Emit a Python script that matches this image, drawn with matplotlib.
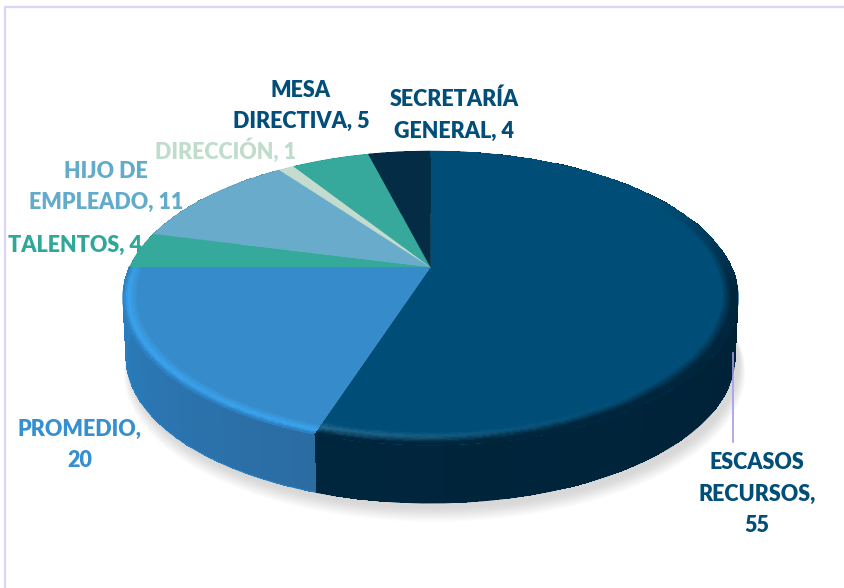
import numpy as np
import matplotlib
matplotlib.use("Agg")
import matplotlib.pyplot as plt
from matplotlib.colors import to_rgb

# datos del grafico
categorias = ["ESCASOS RECURSOS", "PROMEDIO", "TALENTOS", "HIJO DE EMPLEADO",
              "DIRECCIÓN", "MESA DIRECTIVA", "SECRETARÍA GENERAL"]
valores = [55, 20, 4, 11, 1, 5, 4]
etiquetas = ["ESCASOS\nRECURSOS,\n55", "PROMEDIO,\n20", "TALENTOS, 4",
             "HIJO DE\nEMPLEADO, 11", "DIRECCIÓN, 1", "MESA\nDIRECTIVA, 5",
             "SECRETARÍA\nGENERAL, 4"]

colores = ["#004e78", "#368cca", "#35aa9c", "#69abca", "#c3dccf", "#36a99c", "#042c44"]
colores_texto = ["#014e78", "#3690d0", "#2fa89a", "#62abcb", "#c0dccd", "#014e78", "#014e78"]
colores_lado = [("#00263d", "#001d30"), ("#2a80c2", "#2b6ca2"), ("#2a8a7e", "#2a8a7e"),
                ("#558aa3", "#558aa3"), ("#9db2a7", "#9db2a7"), ("#2a8a7e", "#2a8a7e"),
                ("#02202f", "#02202f")]
brillo = ["#2f7296", "#3aa2ec", "#35aa9c", "#69abca", "#c3dccf", "#36a99c", "#042c44"]
borde = ["#00263d", "#2a7ab8", "#35aa9c", "#69abca", "#c3dccf", "#36a99c", "#042c44"]
pos_etiquetas = [(757, 494), (80, 445), (75, 245), (106, 187), (226, 151), (301, 106), (454, 115)]

# geometria de la torta en perspectiva (pixeles)
CX, CY = 430.5, 267
A, B, K = 301, 140.5, 0.211
PROF = 60
ENC = 0.988


def proyectar(r, th, z=0.0):
    u = r * np.sin(th)
    v = r * np.cos(th)
    w = 1 + K * v
    esc = 1 - (1 - ENC) * z
    x = CX + esc * A * u / w
    y = CY - esc * B * v / w + PROF * z
    return x, y


def mezcla(c1, c2, t):
    return (1 - t)[..., None] * np.array(to_rgb(c1)) + t[..., None] * np.array(to_rgb(c2))


fig = plt.figure(figsize=(8.45, 5.88), dpi=100)
ax = fig.add_axes([0, 0, 1, 1])
ax.set_xlim(0, 845)
ax.set_ylim(588, 0)
ax.axis("off")

# marco
ax.plot([5.5, 5.5, 845], [588, 6.5, 6.5], color="#d9d5f6", lw=1.6)

# sombra difusa
th_s = np.linspace(0, 2 * np.pi, 240)
for i in range(14):
    xs, ys = proyectar(1.0 + 0.0016 * i, th_s, 1.0)
    ax.fill(xs + 4, ys + 5 + i * 0.7, color="#8a8a8a", alpha=0.022, lw=0, zorder=1)

limites = 2 * np.pi * np.concatenate([[0], np.cumsum(valores)]) / np.sum(valores)

# paredes laterales
for i in range(len(valores)):
    th = np.linspace(limites[i], limites[i + 1], 60)
    z = np.linspace(0, 1, 2)
    T, Z = np.meshgrid(th, z)
    X, Y = proyectar(1.0, T, Z)
    t = (th[:-1] - th[0]) / (th[-1] - th[0])
    c = mezcla(colores_lado[i][1], colores_lado[i][0], t)[None, :, :]
    ax.pcolormesh(X, Y, c, antialiased=False, zorder=2)
    xb, yb = proyectar(1.0, th, 1.0)
    ax.plot(xb, yb, color=colores_lado[i][0], lw=0.8, zorder=2)

# cara superior
for i in range(len(valores)):
    th = np.linspace(limites[i], limites[i + 1], 120)
    x, y = proyectar(1.0, th)
    ax.fill(np.r_[CX, x], np.r_[CY, y], color=colores[i], lw=0.3, ec=colores[i], zorder=3)

# bisel del borde
R0 = 0.935
radios = np.linspace(R0, 1.0, 13)
for i in range(2):
    th = np.linspace(limites[i], limites[i + 1], 160)
    R, T = np.meshgrid(radios, th)
    X, Y = proyectar(R, T)
    rm = 0.5 * (radios[:-1] + radios[1:])
    thm = 0.5 * (th[:-1] + th[1:])
    Rm, Tm = np.meshgrid(rm, thm)
    s = (Rm - R0) / (1.0 - R0)
    base = np.array(to_rgb(colores[i]))
    if i == 1:
        f = np.clip((0.35 - np.cos(Tm)) / 0.5, 0, 1)
        s1 = np.clip((s - 0.3) / 0.4, 0, 1)
        s2 = np.clip((s - 0.75) / 0.25, 0, 1)
    else:
        f = np.clip((0.55 - np.cos(Tm)) / 0.7, 0, 1)
        # el brillo se apaga hacia la derecha del frente
        apaga = np.clip((Tm - np.radians(140)) / np.radians(58), 0, 1)
        s1 = np.clip((s - 0.1) / 0.4, 0, 1) * apaga * 0.8
        s2 = np.clip((s - 0.45 + 0.25 * (1 - apaga)) / 0.45, 0, 1)
    c = mezcla(colores[i], brillo[i], s1)
    c = (1 - s2[..., None]) * c + s2[..., None] * np.array(to_rgb(borde[i]))
    c = (1 - f[..., None]) * base + f[..., None] * c
    ax.pcolormesh(X, Y, c, antialiased=False, zorder=4)

# linea guia de ESCASOS RECURSOS
ax.plot([733, 733], [353, 442], color="#a79be8", lw=1.2, zorder=5)

# etiquetas
for txt, col, (px, py) in zip(etiquetas, colores_texto, pos_etiquetas):
    ax.text(px, py, txt, ha="center", va="center", color=col, fontsize=15.5,
            fontweight="heavy", family="Lato", linespacing=1.63, zorder=6)

fig.savefig("out.png", dpi=100)
